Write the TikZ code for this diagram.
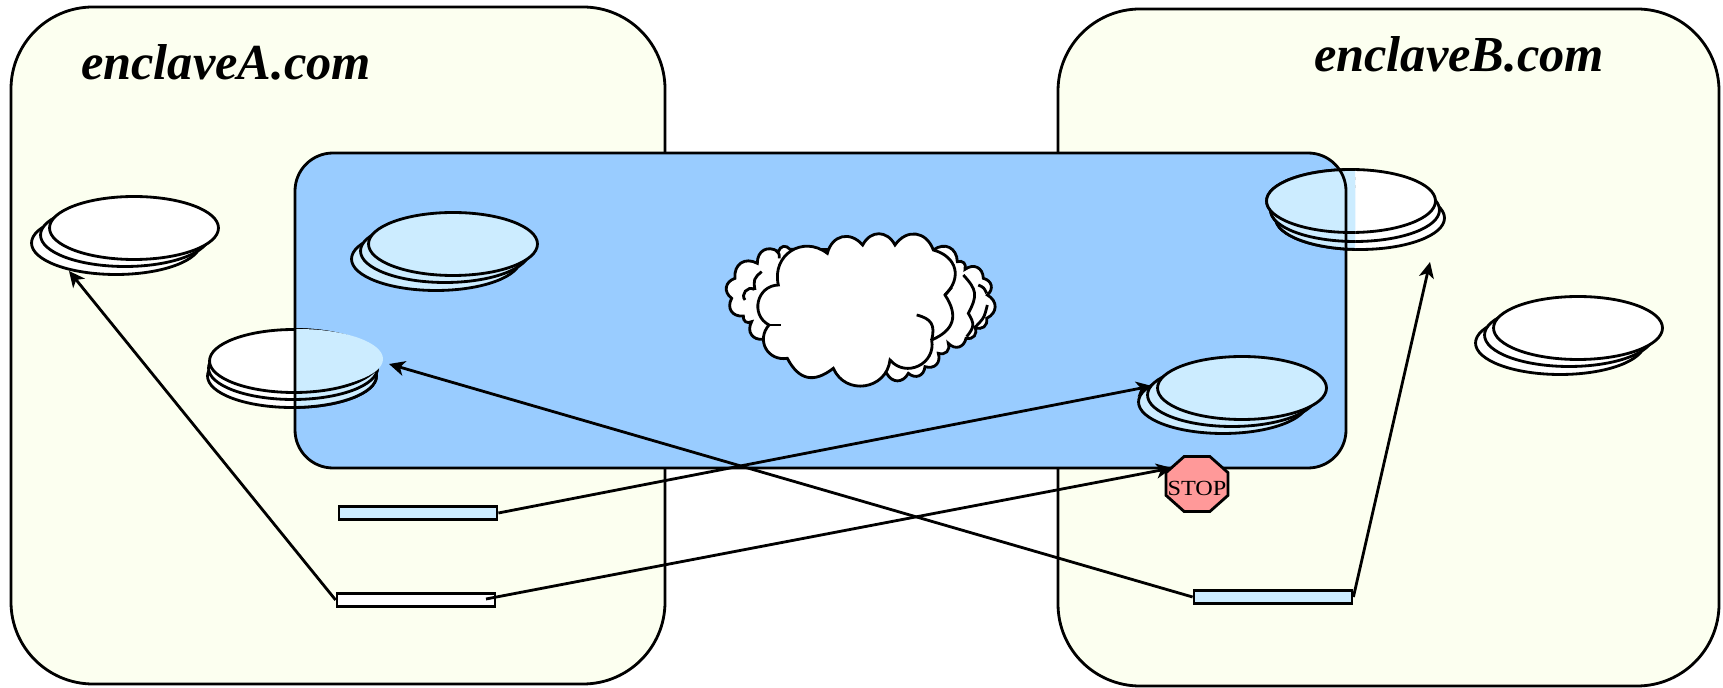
\documentclass[tikz,border=0pt]{standalone}
\usepackage{fontspec}
\setmainfont{Liberation Serif}
\usetikzlibrary{arrows.meta, shapes.geometric}
\definecolor{enclavefill}{HTML}{FCFFF0}
\definecolor{zonefill}{HTML}{99CCFF}
\definecolor{litefill}{HTML}{CCECFF}
\definecolor{stopfill}{HTML}{FF9999}
\tikzset{
    disc/.style={ellipse, draw, fill=white, minimum width=3.38cm, minimum height=1.26cm, inner sep=0pt},
    litedisc/.style={disc, fill=litefill},
    bar/.style={draw, fill=white, minimum width=3.16cm, minimum height=0.26cm, inner sep=0pt},
    litebar/.style={bar, fill=litefill},
    enclave/.style={draw, fill=enclavefill, rounded corners=1.64cm},
    zone/.style={rounded corners=0.76cm},
    sitename/.style={font=\fontsize{28.7}{34}\selectfont\bfseries\itshape},
    stopsign/.style={regular polygon, regular polygon sides=8, draw, fill=stopfill, minimum size=1.34cm, inner sep=0pt, font=\fontsize{13.8}{15}\selectfont},
    link/.style={->},
}

\begin{document}
\begin{tikzpicture}[x=0.02cm, y=-0.02cm, >={Stealth[length=9pt, width=8.5pt, inset=2.5pt]}, line width=1.6pt]
    \useasboundingbox (0,0) rectangle (1723,688);

    \draw[enclave] (11,7) rectangle (665,684);
    \draw[enclave] (1058,9) rectangle (1719,686);
    \fill[zonefill, zone] (295,153) rectangle (1346,468);

    \node[sitename] (nameA) at (226,62) {enclaveA.com};
    \node[sitename] (nameB) at (1459,54) {enclaveB.com};

    % white stacks, some of them reach into the zone
    \foreach \n/\x/\y in {a3/116/243, a2/125/235, a1/134/228,
                          c3/292/376, c2/293/368, c1/294/361,
                          d3/1360/218, d2/1355/210, d1/1351/201,
                          e3/1560/343, e2/1569/335, e1/1578/328}
        \node[disc] (\n) at (\x,\y) {};

    \foreach \n/\x/\y in {b3/436/259, b2/445/251, b1/453/244,
                          f3/1223/402, f2/1232/395, f1/1242/388}
        \node[litedisc] (\n) at (\x,\y) {};

    \begin{scope}
        \clip (295,300) rectangle (400,420);
        \foreach \n/\x/\y in {c3/292/376, c2/293/368, c1/294/361}
            \node[litedisc] (\n lite) at (\x,\y) {};
        \fill[litefill] (298,359) ellipse [x radius=85, y radius=30];
    \end{scope}
    \begin{scope}
        \clip (1255,160) rectangle (1355,255);
        \foreach \n/\x/\y in {d3/1360/218, d2/1355/210, d1/1351/201}
            \node[litedisc] (\n lite) at (\x,\y) {};
    \end{scope}

    \draw[zone] (295,153) rectangle (1346,468);

    % cloud, traced in its own finer grid
    \begin{scope}[shift={(700,210)}, x=0.02cm/3, y=-0.02cm/3, every to/.style={bend left=62, looseness=1.35}]
        \draw[fill=white] (190,388) to (155,335) to (130,318) to (95,265) to (105,205)
            to (172,160) to (235,125) to (270,118) -- (700,120) to (772,155) to (795,178)
            to (850,205) to (862,255) to (860,325) to (825,352) to (798,385) to (745,400)
            to (715,430) to (675,470) to (625,490) to (560,490) -- cycle;
        \draw (790,195) to[bend left=35] (805,310) to[bend left=35] (800,380);
        \draw (835,225) to[bend left=20] (860,250);
        \draw (862,285) to[bend left=15] (825,352);
        \draw (162,238) to[bend right=80] (135,270);
        \draw (185,185) to[bend right=30] (165,240);
        \draw (238,145) to[bend right=25] (228,122);
        \draw[fill=white] (235,225) to[bend left=70] (382,130) to (488,105) to (585,105) to (700,120)
            to[bend left=60] (735,255) to[bend left=50] (695,390) to[bend left=75] (570,450)
            to[bend left=75] (400,475) to[bend left=50] (262,445) to[bend left=70] (207,345)
            to[bend left=75] (235,225) -- cycle;
        \draw (650,315) to[bend left=45] (695,390);
        \draw (207,345) -- (243,345);
        \draw (735,255) -- (755,232);
    \end{scope}

    \node[litebar] (barA) at (418,513) {};
    \node[bar] (plainA) at (416,600) {};
    \node[litebar] (barB) at (1273,597) {};
    \node[stopsign, transform shape, yscale=0.89] (stopB) at (1197,484) {\raisebox{-7.5pt}[0pt][0pt]{\makebox[0pt]{STOP}}};

    \coordinate (plainStart) at (486,599);
    \coordinate (endA) at (69,271);
    \coordinate (endC) at (389,364);
    \coordinate (endD) at (1430,262);
    \coordinate (endF) at (1152,386);
    \coordinate (endStop) at (1172,468);

    \draw[link] (plainA.west) -- (endA);
    \draw[link] (barA.east) -- (endF);
    \draw[link] (plainStart) -- (endStop);
    \draw[link] (barB.west) -- (endC);
    \draw[link] (barB.east) -- (endD);
\end{tikzpicture}
\end{document}
